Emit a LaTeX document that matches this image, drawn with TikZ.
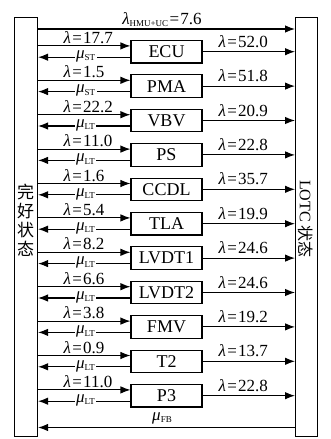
\documentclass[tikz,border=0pt]{standalone}
\usepackage{fontspec}
\setmainfont{Liberation Serif}
\newfontfamily\cjk{Noto Sans CJK SC}
\usetikzlibrary{arrows.meta}
\newcommand\lsub[1]{\raisebox{-0.3ex}{\fontsize{9}{9}\selectfont #1}}
\newcommand\lam{{\itshape λ}}
\newcommand\mumu{{\itshape μ}}
\newcommand\eqs{\kern0.08em=\kern0.08em}
\begin{document}
\begin{tikzpicture}[x=1pt,y=-1pt, line width=1.1pt,
  arr/.style={-{Latex[length=10pt,width=7.5pt]}},
  comp/.style={draw, minimum width=71pt, minimum height=22.5pt, inner sep=0pt, font=\fontsize{18}{18}\selectfont},
  side/.style={draw, minimum width=23pt, minimum height=419pt, inner sep=0pt, anchor=north west},
  lab/.style={font=\fontsize{17}{17}\selectfont, inner sep=0pt},
  mulab/.style={font=\fontsize{17}{17}\selectfont, inner xsep=1.5pt, inner ysep=0.3pt, fill=white},
  cjkt/.style={font=\fontsize{17}{19}\selectfont\cjk, inner sep=0pt, align=center}]
\useasboundingbox (0,0) rectangle (330,439);
\node[side] (L) at (14,17) {};
\node[side, minimum width=22pt] (R) at (295,17) {};
\node[cjkt] (Ltxt) at (25.5,220) {完\\好\\状\\态};
\node[font=\fontsize{16}{16}\selectfont, inner sep=0pt, rotate=-90] (Rtxt) at (306,219) {LOTC {\cjk 状态}};
% top arrow
\coordinate (ty) at (0,29);
\draw[arr] (L.east |- ty) -- (R.west |- ty);
\node[lab, anchor=base] (tl) at (162,24) {\lam\lsub{HMU+UC}\eqs 7.6};
% bottom arrow
\coordinate (by) at (0,427.5);
\draw[arr] (R.west |- by) -- (L.east |- by);
\node[lab, anchor=base] (bl) at (162,420) {\mumu\lsub{FB}};
\foreach \n/\a/\b/\s [count=\i from 0] in {ECU/17.7/52.0/ST, PMA/1.5/51.8/ST, VBV/22.2/20.9/LT, PS/11.0/22.8/LT, CCDL/1.6/35.7/LT, TLA/5.4/19.9/LT, LVDT1/8.2/24.6/LT, LVDT2/6.6/24.6/LT, FMV/3.8/19.2/LT, T2/0.9/13.7/LT, P3/11.0/22.8/LT}{
  \pgfmathsetmacro{\yc}{51.7+34.4*\i}
  \node[comp] (b\i) at (166.5,\yc) {\n};
  \draw[arr] ([yshift=5.8pt]b\i.west -| L.east) -- ([yshift=5.8pt]b\i.west);
  \node[lab, anchor=base west] (la\i) at (63,\yc-8.3) {\lam\eqs\a};
  \draw[arr] ([yshift=-5.5pt]b\i.west) -- ([yshift=-5.5pt]b\i.west -| L.east);
  \node[mulab, anchor=base west] (mu\i) at (74,\yc+6.8) {\mumu\lsub{\s}};
  \draw[arr] (b\i.east) -- (b\i.east -| R.west);
  \node[lab, anchor=base west] (lb\i) at (218,\yc-4.5) {\lam\eqs\b};
}
\end{tikzpicture}
\end{document}
